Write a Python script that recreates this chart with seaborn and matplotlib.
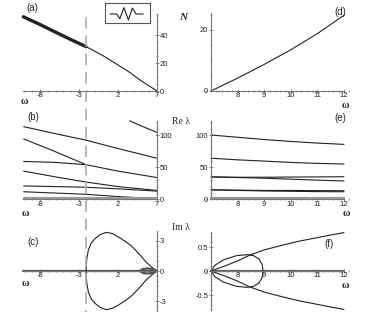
import numpy as np
import matplotlib
matplotlib.use("Agg")
import matplotlib.pyplot as plt
import seaborn as sns
from matplotlib.lines import Line2D
from matplotlib.ticker import MultipleLocator

sns.set_theme(style="white")
plt.rcParams["font.family"] = ["Liberation Sans", "DejaVu Sans"]
plt.rcParams["axes.unicode_minus"] = False

W, H = 366, 323
OMEGA_C = -2.1  # collision point (dashed line)

# (a) N(omega), left branch
A_OMEGA = [-10.14, -8, -6, -4, -2.1, 0, 2, 3.5, 4.8, 6, 7]
A_N = [53, 47.5, 42, 36.6, 31.7, 25.5, 18.6, 13.3, 7.9, 3.6, 0]

# (d) N(omega), right branch
D_OMEGA = [7, 8, 9, 10, 11, 12]
D_N = [0, 4.2, 8.7, 13.5, 18.8, 24.8]

# (b) Re lambda, left branch
B_LINES = [
    ([-10.1, -6, -2.1, 2, 7], [113, 102, 92, 79, 64]),
    ([-10.1, -6, -2.1, 2, 7], [94, 74, 54, 44, 34]),
    ([-10.1, -6, -2.1], [59, 57.5, 54]),
    ([-10.1, -6, -2.1, 2, 7], [44, 35, 27, 20, 14]),
    ([-10.1, -2.1, 2, 7], [21, 19, 16.5, 13]),
    ([-10.1, -2.1, 2, 7], [12, 8, 4.5, 1]),
    ([3.5, 5, 7], [122, 114, 104]),
]
B_FLAT = ([-10.1, 7], [2.5, 2.5])

# (e) Re lambda, right branch
E_OMEGA = [7, 8, 9, 10, 11, 12]
E_LINES = [
    [100, 96.5, 93, 90, 87.5, 85.5],
    [64, 61.5, 59.5, 57.5, 56, 55],
    [35, 34.5, 34.5, 34.8, 35, 35.3],
    [35, 34, 33, 31.5, 30, 28.7],
    [15, 14.5, 14, 14, 13.8, 13.6],
    [15, 14, 13.2, 12.7, 12.2, 12],
]
E_FLAT = [2.5, 2.5, 2.5, 2.5, 2.5, 2.5]

# (c) Im lambda, left branch (upper half of loop, mirrored)
C_OMEGA = [-2.1, -2.0, -1.8, -1.4, -0.95, -0.3, 0.5, 1.3, 2.2, 3.0, 3.8, 4.7, 5.55, 6.3, 7.0]
C_IM = [0, 1.2, 2.1, 2.8, 3.2, 3.6, 3.83, 3.7, 3.3, 2.9, 2.43, 1.7, 0.93, 0.4, 0]
C_SMALL_OMEGA = [4.8, 5.2, 5.8, 6.4, 7.0]
C_SMALL_IM = [0, 0.2, 0.25, 0.2, 0]

# (f) Im lambda, right branch
F_OUT_OMEGA = [7, 7.5, 8, 8.45, 9, 9.7, 10.3, 10.95, 11.5, 12]
F_OUT_IM = [0, 0.1, 0.21, 0.33, 0.44, 0.54, 0.62, 0.69, 0.75, 0.8]
F_LOOP_OMEGA = [7, 7.15, 7.46, 7.96, 8.35, 8.6, 8.8, 8.92, 8.96]
F_LOOP_IM = [0, 0.12, 0.23, 0.32, 0.34, 0.32, 0.25, 0.14, 0]

# inset profile (normalized box coordinates)
INSET_X = [0.11, 0.26, 0.33, 0.42, 0.52, 0.61, 0.69, 0.75, 0.85]
INSET_Y = [0.45, 0.45, 0.22, 0.77, 0.15, 0.75, 0.45, 0.45, 0.45]

LINE = "#222222"
AXC = "#777777"
TICK_FS = 5.5

fig = plt.figure(figsize=(W / 100, H / 100), dpi=100)
fig.patch.set_facecolor("white")


def place(xlim, ylim, xpx, ypx):
    left, right = xpx[0] / W, xpx[1] / W
    bottom, top = 1 - ypx[0] / H, 1 - ypx[1] / H
    ax = fig.add_axes([left, bottom, right - left, top - bottom])
    ax.set_xlim(xlim)
    ax.set_ylim(ylim)
    ax.patch.set_alpha(0)
    return ax


def style(ax, xb, yb, side, xticks, yticks, xminor, yminor, ylabels=None):
    for s in ax.spines.values():
        s.set_visible(False)
    ax.spines["bottom"].set_visible(True)
    ax.spines["bottom"].set_position(("data", 0))
    ax.spines["bottom"].set_bounds(*xb)
    ax.spines[side].set_visible(True)
    ax.spines[side].set_position(("data", 7))
    ax.spines[side].set_bounds(*yb)
    for s in ("bottom", side):
        ax.spines[s].set_color(AXC)
        ax.spines[s].set_linewidth(0.8)
    if side == "right":
        ax.yaxis.tick_right()
    else:
        ax.yaxis.tick_left()
    ax.xaxis.tick_bottom()
    ax.set_xticks(xticks)
    ax.set_xticklabels([str(t) for t in xticks])
    ax.set_yticks(yticks)
    ax.set_yticklabels(ylabels if ylabels else [str(t) for t in yticks])
    ax.xaxis.set_minor_locator(MultipleLocator(xminor))
    ax.yaxis.set_minor_locator(MultipleLocator(yminor))
    ax.tick_params(which="major", direction="inout", length=3, width=0.6,
                   color=AXC, labelsize=TICK_FS, pad=0.5, labelcolor="#222222")
    ax.tick_params(axis="x", which="major", pad=-0.5)
    ax.tick_params(which="minor", direction="inout", length=1.6, width=0.5, color=AXC)
    ax.set_xlabel("")
    ax.set_ylabel("")


def curve(ax, x, y, lw=0.8, color=LINE):
    sns.lineplot(x=x, y=y, ax=ax, sort=False, estimator=None, color=color, lw=lw)


LX, LPX = (-10.5, 7.5), (20.5, 160.9)
RX, RPX = (6.8, 12.2), (205.7, 349.3)

# (a)
ax_a = place(LX, (-3, 57), LPX, (95.2, 11.2))
split = A_OMEGA.index(-2.1)
curve(ax_a, A_OMEGA[:split + 1], A_N[:split + 1], lw=2.4)
curve(ax_a, A_OMEGA[split:], A_N[split:], lw=0.8)
style(ax_a, (-10.2, 7), (0, 55), "right", [-8, -3, 2, 7], [0, 20, 40], 1, 5)

# (d)
ax_d = place(RX, (-1, 27), RPX, (94.0, 8.6))
curve(ax_d, D_OMEGA, D_N)
style(ax_d, (7, 12), (0, 25.5), "left", [8, 9, 10, 11, 12], [0, 20], 0.2, 5)

# (b)
ax_b = place(LX, (-5, 125), LPX, (202.7, 118.9))
for xs, ys in B_LINES:
    curve(ax_b, xs, ys)
curve(ax_b, *B_FLAT, lw=1.6, color="#999999")
style(ax_b, (-10.2, 7), (0, 122), "right", [-8, -3, 2, 7], [0, 50, 100], 1, 10)
ax_b.set_ylim(-5, 125)

# (e)
ax_e = place(RX, (-5, 125), RPX, (202.7, 118.9))
for ys in E_LINES:
    curve(ax_e, E_OMEGA, ys)
curve(ax_e, E_OMEGA, E_FLAT, lw=1.6, color="#999999")
style(ax_e, (7, 12), (0, 122), "left", [8, 9, 10, 11, 12], [0, 50, 100], 0.2, 10)
ax_e.set_ylim(-5, 125)

# (c)
ax_c = place(LX, (-4.2, 4.2), LPX, (313.4, 228.6))
curve(ax_c, [-10.2, 7], [0, 0], lw=1.6, color="#555555")
curve(ax_c, C_OMEGA, C_IM)
curve(ax_c, C_OMEGA, [-v for v in C_IM])
curve(ax_c, C_SMALL_OMEGA + C_SMALL_OMEGA[::-1],
      C_SMALL_IM + [-v for v in C_SMALL_IM[::-1]], lw=1.6, color="#555555")
style(ax_c, (-10.2, 7), (-3.9, 3.9), "right", [-8, -3, 2], [-3, 0, 3], 1, 0.5)
ax_c.set_ylim(-4.2, 4.2)

# (f)
ax_f = place(RX, (-0.85, 0.85), RPX, (311.8, 230.2))
curve(ax_f, [7, 12], [0, 0], lw=1.6, color="#666666")
curve(ax_f, F_OUT_OMEGA, F_OUT_IM)
curve(ax_f, F_OUT_OMEGA, [-v for v in F_OUT_IM])
curve(ax_f, F_LOOP_OMEGA + F_LOOP_OMEGA[::-1],
      F_LOOP_IM + [-v for v in F_LOOP_IM[::-1]])
style(ax_f, (7, 12), (-0.81, 0.81), "left", [8, 9, 10, 11, 12], [-0.5, 0, 0.5], 0.2, 0.1,
      ylabels=["-0.5", "0", "0.5"])
ax_f.set_ylim(-0.85, 0.85)

# dashed line at the collision point, across the left column
xd = fig.transFigure.inverted().transform(ax_a.transData.transform((OMEGA_C, 0)))[0]
fig.add_artist(Line2D([xd, xd], [1 - 17 / H, 1 - 312 / H], transform=fig.transFigure,
                      color="#aaaaaa", lw=1.2, ls=(0, (7, 4))))

# inset soliton profile
ax_in = fig.add_axes([105 / W, 1 - 23 / H, 45 / W, 20 / H])
sns.lineplot(x=INSET_X, y=INSET_Y, ax=ax_in, sort=False, estimator=None, color=LINE, lw=0.8)
ax_in.set_xlim(0, 1)
ax_in.set_ylim(0, 1)
ax_in.set_xticks([])
ax_in.set_yticks([])
ax_in.set_xlabel("")
ax_in.set_ylabel("")
for s in ax_in.spines.values():
    s.set_visible(True)
    s.set_color("#555555")
    s.set_linewidth(0.8)

# text labels
def ftext(x, y, s, **kw):
    fig.text(x / W, 1 - y / H, s, ha="center", va="center", **kw)

serif = ["Liberation Serif", "DejaVu Serif"]
ftext(183, 17, "N", family=serif, style="italic", weight="bold", fontsize=8)
ftext(181, 122, "Re λ", family=serif, fontsize=7)
ftext(181, 227, "Im λ", family=serif, fontsize=7)
for x, y in [(24, 102), (25, 214), (25, 284), (345, 106), (346, 214), (345, 286)]:
    ftext(x, y, "ω", family=serif, weight="bold", fontsize=7.5)
for x, y, s in [(32, 8, "(a)"), (340, 12, "(d)"), (33, 117, "(b)"),
                (340, 118, "(e)"), (33, 242, "(c)"), (329, 244, "(f)")]:
    ftext(x, y, s, fontsize=7)

fig.savefig("out.png", dpi=100)
